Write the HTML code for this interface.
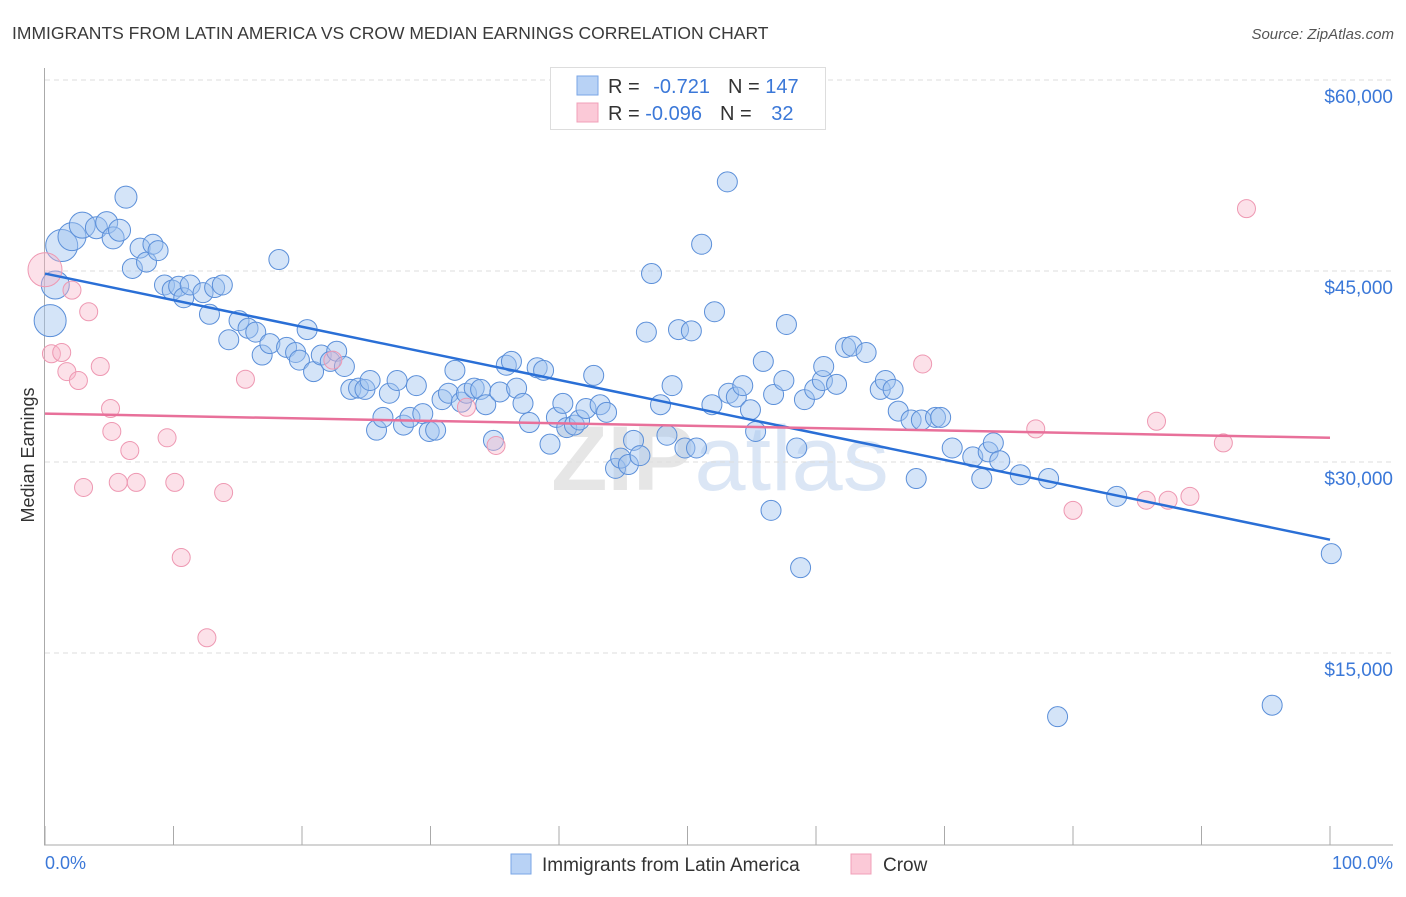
<!DOCTYPE html>
<html><head><meta charset="utf-8"><style>
body{margin:0;background:#fff;font-family:"Liberation Sans",sans-serif}
svg text{font-family:"Liberation Sans",sans-serif}
</style></head><body>
<svg width="1406" height="892" id="c">
<text x="12" y="39" font-size="17.5" fill="#3a3a3a">IMMIGRANTS FROM LATIN AMERICA VS CROW MEDIAN EARNINGS CORRELATION CHART</text>
<text x="1394" y="39" font-size="15" fill="#555" font-style="italic" text-anchor="end">Source: ZipAtlas.com</text>
<text x="720" y="490" font-size="92" fill="#e6e6e6" text-anchor="middle" font-weight="bold">ZIP<tspan fill="#dbe6f5" font-weight="normal">atlas</tspan></text>
<g id="grid"></g><g id="pts"></g><g id="lines"></g>
<text transform="translate(34,455) rotate(-90)" font-size="18" fill="#333" text-anchor="middle">Median Earnings</text>
<text x="45" y="869" font-size="18" fill="#3b78d8">0.0%</text>
<text x="1393" y="869" font-size="18" fill="#3b78d8" text-anchor="end">100.0%</text>
<g>
<rect x="550.5" y="67.5" width="275" height="62" fill="#fff" stroke="#ddd"/>
<rect x="577" y="76" width="21" height="19" fill="#b8d2f5" stroke="#7aa6e6"/>
<rect x="577" y="103" width="21" height="19" fill="#fbc9d7" stroke="#f0a0b8"/>
<text x="608" y="93" font-size="20" fill="#333">R = <tspan fill="#3b78d8" dx="8">-0.721</tspan><tspan dx="18" fill="#333">N = </tspan><tspan fill="#3b78d8">147</tspan></text>
<text x="608" y="120" font-size="20" fill="#333">R = <tspan fill="#3b78d8">-0.096</tspan><tspan dx="18" fill="#333">N = </tspan><tspan fill="#3b78d8" dx="14">32</tspan></text>
</g>
<g>
<rect x="511" y="854" width="20" height="20" fill="#b8d2f5" stroke="#7aa6e6"/>
<text x="542" y="871" font-size="19" fill="#333">Immigrants from Latin America</text>
<rect x="851" y="854" width="20" height="20" fill="#fbc9d7" stroke="#f0a0b8"/>
<text x="883" y="871" font-size="19" fill="#333">Crow</text>
</g>
</svg>
<script>
const yTicks=[15000,30000,45000,60000];
const yTickLabels=["$15,000","$30,000","$45,000","$60,000"];
const xTicks=[0,10,20,30,40,50,60,70,80,90,100];
const blueX=[0.4,0.8,1.3,2.1,2.9,4.0,4.8,5.3,5.8,6.3,6.8,7.4,7.9,8.4,8.8,9.3,9.9,10.4,10.8,11.3,12.3,13.2,13.8,12.8,14.3,15.1,15.8,16.4,16.9,17.5,18.2,18.8,19.5,19.8,20.4,20.9,21.5,22.2,22.7,23.3,23.8,24.4,24.9,25.3,25.8,26.3,26.8,27.4,27.9,28.4,28.9,29.4,29.9,30.4,30.9,31.4,31.9,32.4,32.8,33.4,33.9,34.3,34.9,35.4,35.9,36.3,36.7,37.2,37.7,38.3,38.8,39.3,39.8,40.3,40.6,41.2,41.6,42.1,42.7,43.2,43.7,44.4,44.8,45.4,45.8,46.3,46.8,47.2,47.9,48.4,48.8,49.3,49.8,50.3,50.7,51.1,51.9,52.1,53.1,53.2,53.8,54.3,54.9,55.3,55.9,56.5,56.7,57.5,57.7,58.5,58.8,59.1,59.9,60.5,60.6,61.6,62.3,62.8,63.9,65.0,65.4,66.0,66.4,67.4,67.8,68.2,69.3,69.7,70.6,72.2,72.9,73.4,73.8,74.3,75.9,78.1,78.8,83.4,95.5,100.1];
const blueY=[41.1,43.9,47.0,47.7,48.6,48.4,48.8,47.6,48.2,50.8,45.2,46.8,45.7,47.1,46.6,43.9,43.5,43.8,42.9,43.9,43.3,43.7,43.9,41.6,39.6,41.1,40.5,40.2,38.4,39.3,45.9,39.0,38.6,38.0,40.4,37.1,38.4,37.9,38.7,37.5,35.7,35.8,35.7,36.4,32.5,33.5,35.4,36.4,32.9,33.5,36.0,33.8,32.4,32.5,34.9,35.4,37.2,34.7,35.4,35.8,35.7,34.5,31.7,35.5,37.6,37.9,35.8,34.6,33.1,37.4,37.2,31.4,33.5,34.6,32.7,32.9,33.3,34.2,36.8,34.5,33.9,29.5,30.3,29.8,31.7,30.5,40.2,44.8,34.5,32.1,36.0,40.4,31.1,40.3,31.1,47.1,34.5,41.8,52.0,35.4,35.1,36.0,34.1,32.4,37.9,26.2,35.3,36.4,40.8,31.1,21.7,34.9,35.7,36.4,37.5,36.1,39.0,39.1,38.6,35.7,36.4,35.7,34.0,33.3,28.7,33.3,33.5,33.5,31.1,30.4,28.7,30.8,31.5,30.1,29.0,28.7,10.0,27.3,10.9,22.8];
const pinkX=[0,0.5,1.3,1.7,2.1,2.6,3.0,3.4,4.3,5.1,5.2,5.7,6.6,7.1,9.5,10.1,10.6,12.6,13.9,15.6,22.4,32.8,35.1,68.3,77.1,80.0,85.7,86.5,87.4,89.1,91.7,93.5];
const pinkY=[45.1,38.5,38.6,37.1,43.5,36.4,28.0,41.8,37.5,34.2,32.4,28.4,30.9,28.4,31.9,28.4,22.5,16.2,27.6,36.5,38.0,34.3,31.3,37.7,32.6,26.2,27.0,33.2,27.0,27.3,31.5,49.9];
const blueTrend=[44.8,23.9];
const pinkTrend=[33.8,31.9];
const NS="http://www.w3.org/2000/svg";
const X=p=>45+p*12.85, Y=v=>844-v/15000*191;
function mk(t,a,parent){const e=document.createElementNS(NS,t);for(const k in a)e.setAttribute(k,a[k]);document.getElementById(parent).appendChild(e);return e;}
// grid
let g=mk('line',{x1:45,x2:1393,y1:Y(60000),y2:Y(60000),stroke:'#ddd','stroke-dasharray':'5,4'},'grid');


yTicks.forEach((t,i)=>{
 const l=mk('line',{x1:45,x2:1393,y1:Y(t),y2:Y(t),stroke:'#ddd','stroke-dasharray':'5,4'},'grid');
 
 
 const tx=mk('text',{x:1393,y:Y(t)+23,'font-size':19,fill:'#3b78d8','text-anchor':'end'},'grid');
 tx.textContent=yTickLabels[i];
 
 
});
let ax=mk('line',{x1:44.5,x2:44.5,y1:68,y2:845,stroke:'#aaa'},'grid');


let bx=mk('line',{x1:44,x2:1393,y1:845,y2:845,stroke:'#aaa'},'grid');


xTicks.forEach(t=>{
 const l=mk('line',{x1:X(t),x2:X(t),y1:826,y2:845,stroke:'#aaa'},'grid');
 
 
});
const bigB=[16,14,16,14,13,11,11,11,11,11];
blueX.forEach((x,i)=>{
 const c=mk('circle',{cx:X(x),cy:Y(blueY[i]*1000),r:bigB[i]||10,fill:'rgba(160,195,240,0.45)',stroke:'#5b8fd9','stroke-width':1},'pts');
 
 
});
pinkX.forEach((x,i)=>{
 const c=mk('circle',{cx:X(x),cy:Y(pinkY[i]*1000),r:i==0?17:9,fill:'rgba(248,180,200,0.4)',stroke:'#ee98b2','stroke-width':1},'pts');
 
 
});
let bl=mk('line',{x1:X(0),x2:X(100),y1:Y(blueTrend[0]*1000),y2:Y(blueTrend[1]*1000),stroke:'#2a6fd6','stroke-width':2.5},'lines');


let pl=mk('line',{x1:X(0),x2:X(100),y1:Y(pinkTrend[0]*1000),y2:Y(pinkTrend[1]*1000),stroke:'#e8709a','stroke-width':2.5},'lines');


</script>
</body></html>
